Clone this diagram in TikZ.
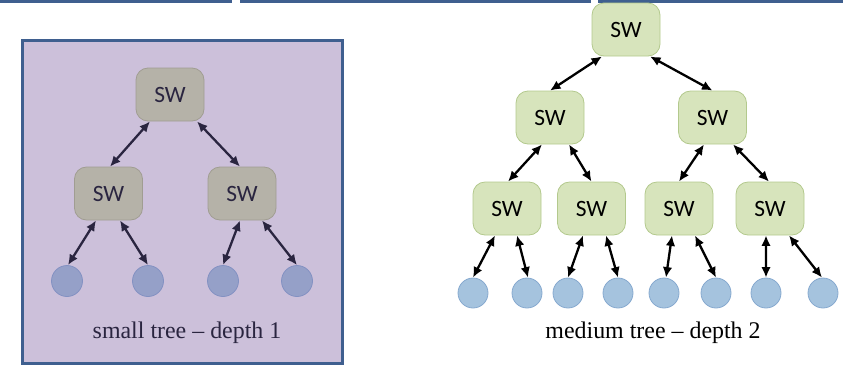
\documentclass[tikz,border=0pt]{standalone}
\usepackage{fontspec}
\setmainfont{Liberation Serif}
\newfontfamily\swfont{Carlito}
\usetikzlibrary{arrows.meta}

\definecolor{frameblue}{HTML}{3F5F8F}
\definecolor{panelfill}{HTML}{CCC0DA}
\definecolor{grayfill}{HTML}{B5B2A8}
\definecolor{graydraw}{HTML}{A09D92}
\definecolor{darkink}{HTML}{2A2540}
\definecolor{hostpurple}{HTML}{95A0C8}
\definecolor{hostpurpledraw}{HTML}{8391C2}
\definecolor{greenfill}{HTML}{D7E4BC}
\definecolor{greendraw}{HTML}{B3C98D}
\definecolor{hostblue}{HTML}{A5C3DE}
\definecolor{hostbluedraw}{HTML}{86A9CF}

\tikzset{
  swbox/.style={rectangle, rounded corners=12bp, minimum width=68bp, minimum height=53bp,
    inner sep=0pt, line width=0.8bp, font=\swfont\fontsize{23.5}{25}\selectfont},
  swgray/.style={swbox, fill=grayfill, draw=graydraw, text=darkink},
  swgreen/.style={swbox, fill=greenfill, draw=greendraw, text=black},
  hostL/.style={circle, minimum size=31bp, inner sep=0pt, fill=hostpurple, draw=hostpurpledraw, line width=0.8bp},
  hostR/.style={circle, minimum size=30bp, inner sep=0pt, fill=hostblue, draw=hostbluedraw, line width=0.8bp},
  tip/.tip={Latex[length=10.5bp,width=9.5bp]},
  link/.style={tip-tip, line width=2.3bp},
  linkL/.style={link, darkink},
  linkR/.style={link, black},
  caption/.style={font=\fontsize{24}{28}\selectfont, inner sep=0pt},
}

\begin{document}
\begin{tikzpicture}[x=1bp, y=-1bp]
  \useasboundingbox (0,0) rectangle (843,365);

  % strip along the top edge
  \fill[frameblue] (0,0) rectangle (232,3);
  \fill[frameblue] (240,0) rectangle (591,3);
  \fill[frameblue] (598,0) rectangle (843,3);

  % small tree panel
  \draw[frameblue, line width=3bp, fill=panelfill] (22,40) rectangle (342,363);

  \node[swgray] (st) at (170,94.5) {SW};
  \node[swgray] (sa) at (108.5,193.5) {SW};
  \node[swgray] (sb) at (242,193.5) {SW};
  \node[hostL] (s1) at (67,281) {};
  \node[hostL] (s2) at (148,281) {};
  \node[hostL] (s3) at (223,281) {};
  \node[hostL] (s4) at (297,281) {};

  \draw[linkL] ([xshift=-20bp]st.south) -- ([xshift=1.5bp]sa.north);
  \draw[linkL] ([xshift=27bp]st.south) -- ([xshift=-2bp]sb.north);
  \draw[linkL] ([xshift=-12.5bp]sa.south) -- ([xshift=1bp]s1.north);
  \draw[linkL] ([xshift=11.5bp]sa.south) -- (s2.north);
  \draw[linkL] ([xshift=-2bp]sb.south) -- (s3.north);
  \draw[linkL] ([xshift=20bp]sb.south) -- (s4.north);

  \node[caption, text=darkink] (scap) at (187,333) {small tree -- depth 1};

  % medium tree
  \node[swgreen] (mt) at (626,29.5) {SW};
  \node[swgreen] (ml) at (550,117.5) {SW};
  \node[swgreen] (mr) at (712.5,117.5) {SW};
  \node[swgreen] (ma) at (507,208.5) {SW};
  \node[swgreen] (mb) at (591.5,208.5) {SW};
  \node[swgreen] (mc) at (679,208.5) {SW};
  \node[swgreen] (md) at (770,208.5) {SW};
  \node[hostR] (h1) at (473,293) {};
  \node[hostR] (h2) at (527,293) {};
  \node[hostR] (h3) at (568,293) {};
  \node[hostR] (h4) at (618,293) {};
  \node[hostR] (h5) at (664,293) {};
  \node[hostR] (h6) at (716,293) {};
  \node[hostR] (h7) at (766,293) {};
  \node[hostR] (h8) at (823,293) {};

  \draw[linkR] ([xshift=-24bp]mt.south) -- (ml.north);
  \draw[linkR] ([xshift=24bp]mt.south) -- (mr.north);
  \draw[linkR] ([xshift=-8bp]ml.south) -- ([xshift=1bp]ma.north);
  \draw[linkR] ([xshift=19bp]ml.south) -- (mb.north);
  \draw[linkR] ([xshift=-8.5bp]mr.south) -- (mc.north);
  \draw[linkR] ([xshift=20.5bp]mr.south) -- ([xshift=-1bp]md.north);

  \draw[linkR] ([xshift=-12bp]ma.south) -- (h1.north);
  \draw[linkR] ([xshift=10bp]ma.south) -- ([xshift=1bp]h2.north);
  \draw[linkR] ([xshift=-8.5bp]mb.south) -- (h3.north);
  \draw[linkR] ([xshift=14.5bp]mb.south) -- (h4.north);
  \draw[linkR] ([xshift=-7bp]mc.south) -- ([xshift=2bp]h5.north);
  \draw[linkR] ([xshift=16bp]mc.south) -- (h6.north);
  \draw[linkR] ([xshift=-4bp]md.south) -- (h7.north);
  \draw[linkR] ([xshift=19bp]md.south) -- ([xshift=-1bp]h8.north);

  \node[caption, text=black] (mcap) at (653,333) {medium tree -- depth 2};
\end{tikzpicture}
\end{document}
